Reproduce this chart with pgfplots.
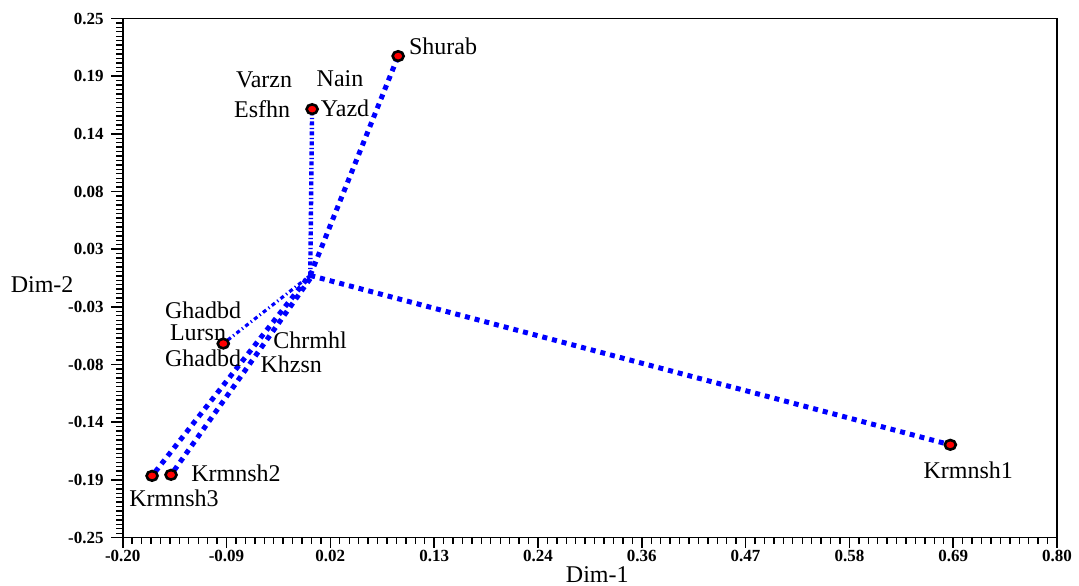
\documentclass[border=0pt]{standalone}
\usepackage{pgfplots}
\pgfplotsset{compat=1.18}
\usepackage{fontspec}
\setmainfont{Liberation Serif}
\definecolor{lineblue}{RGB}{0,0,255}
\begin{document}
\begin{tikzpicture}
\begin{axis}[
  scale only axis,
  width=467pt, height=259.5pt,
  xmin=-0.2, xmax=0.8, ymin=-0.25, ymax=0.25,
  axis line style={line width=0.8pt},
  xtick={-0.2,-0.08889,0.02222,0.13333,0.24444,0.35556,0.46667,0.57778,0.68889,0.8},
  xticklabels={-0.20,-0.09,0.02,0.13,0.24,0.36,0.47,0.58,0.69,0.80},
  ytick={-0.25,-0.19444,-0.13889,-0.08333,-0.02778,0.02778,0.08333,0.13889,0.19444,0.25},
  yticklabels={-0.25,-0.19,-0.14,-0.08,-0.03,0.03,0.08,0.14,0.19,0.25},
  minor x tick num=10, minor y tick num=12,
  xtick align=outside, ytick align=outside,
  xtick pos=left, ytick pos=left,
  major tick length=5pt, minor tick length=3pt,
  every major tick/.append style={draw=black, line width=0.8pt},
  every minor tick/.append style={draw=black, line width=0.7pt},
  ticklabel style={font=\bfseries\fontsize{8.5}{9}\selectfont},
  every x tick label/.append style={yshift=2.5pt},
  every y tick label/.append style={xshift=-1pt},
]
% tree branches
\addplot[lineblue, line width=2.5pt, dash pattern=on 2.5pt off 2.5pt] coordinates {(0.0007,0.0025) (0.0948,0.2138)};
\addplot[lineblue, line width=2.5pt, dash pattern=on 2.5pt off 2.5pt] coordinates {(0.0007,0.0025) (0.6858,-0.1606)};
\addplot[lineblue, line width=2.5pt, dash pattern=on 2.5pt off 2.5pt] coordinates {(-0.0030,-0.0010) (-0.1686,-0.1905)};
\addplot[lineblue, line width=2.5pt, dash pattern=on 2.5pt off 2.5pt] coordinates {(0.0007,-0.0005) (-0.1483,-0.1895)};
\addplot[lineblue, line width=2.2pt, dash pattern=on 2pt off 1.2pt on 0.6pt off 1.2pt] coordinates {(0.0007,0.0025) (0.0027,0.1627)};
\addplot[lineblue, line width=1.6pt, dash pattern=on 2pt off 1.5pt on 0.6pt off 1.5pt] coordinates {(0.0007,0.0025) (-0.0924,-0.0631)};
% leaves
\addplot[only marks, mark=*, mark size=2.4pt, mark options={fill=red, draw=black, line width=1.3pt, xscale=1.15}] coordinates {
  (0.0948,0.2138) (0.0027,0.1627) (-0.0924,-0.0631) (-0.1686,-0.1905) (-0.1483,-0.1895) (0.6858,-0.1606)};
% labels
\begin{scope}[every node/.style={font=\fontsize{12}{13}\selectfont, inner sep=0pt}]
\node at (axis cs:0.1429,0.2235) {Shurab};
\node at (axis cs:-0.0487,0.1907) {Varzn};
\node at (axis cs:0.0326,0.1916) {Nain};
\node at (axis cs:-0.0508,0.1627) {Esfhn};
\node at (axis cs:0.0380,0.1637) {Yazd};
\node at (axis cs:-0.1140,-0.0311) {Ghadbd};
\node at (axis cs:-0.1194,-0.0524) {Lursn};
\node at (axis cs:-0.1140,-0.0775) {Ghadbd};
\node at (axis cs:0.0005,-0.0602) {Chrmhl};
\node at (axis cs:-0.0197,-0.0834) {Khzsn};
\node at (axis cs:-0.0787,-0.1876) {Krmnsh2};
\node at (axis cs:-0.1451,-0.2117) {Krmnsh3};
\node at (axis cs:0.7050,-0.1847) {Krmnsh1};
\end{scope}
\coordinate (ll) at (rel axis cs:0,0);
\coordinate (ur) at (rel axis cs:1,1);
\end{axis}
% tick marks along the bottom and left edges
\foreach \i in {0,...,99} \draw[black, line width=0.7pt] ([xshift=\i*4.71717pt]ll) -- ++(0,-3pt);
\foreach \i in {0,...,9} \draw[black, line width=0.8pt] ([xshift=\i*51.8889pt]ll) -- ++(0,-5pt);
\foreach \i in {0,...,117} \draw[black, line width=0.7pt] ([yshift=\i*2.21795pt]ll) -- ++(-3.5pt,0);
\foreach \i in {0,...,9} \draw[black, line width=0.8pt] ([yshift=\i*28.8333pt]ll) -- ++(-6pt,0);
\node[font=\fontsize{12}{13}\selectfont, inner sep=0pt] at ([xshift=-40.3pt, yshift=126.5pt]ll) {Dim-2};
\node[font=\fontsize{12}{13}\selectfont, inner sep=0pt] at ([xshift=237.2pt, yshift=-18.5pt]ll) {Dim-1};
\pgfresetboundingbox
\path ([xshift=-61.35pt, yshift=-24pt]ll) rectangle ([xshift=11pt, yshift=9.25pt]ur);
\end{tikzpicture}
\end{document}
